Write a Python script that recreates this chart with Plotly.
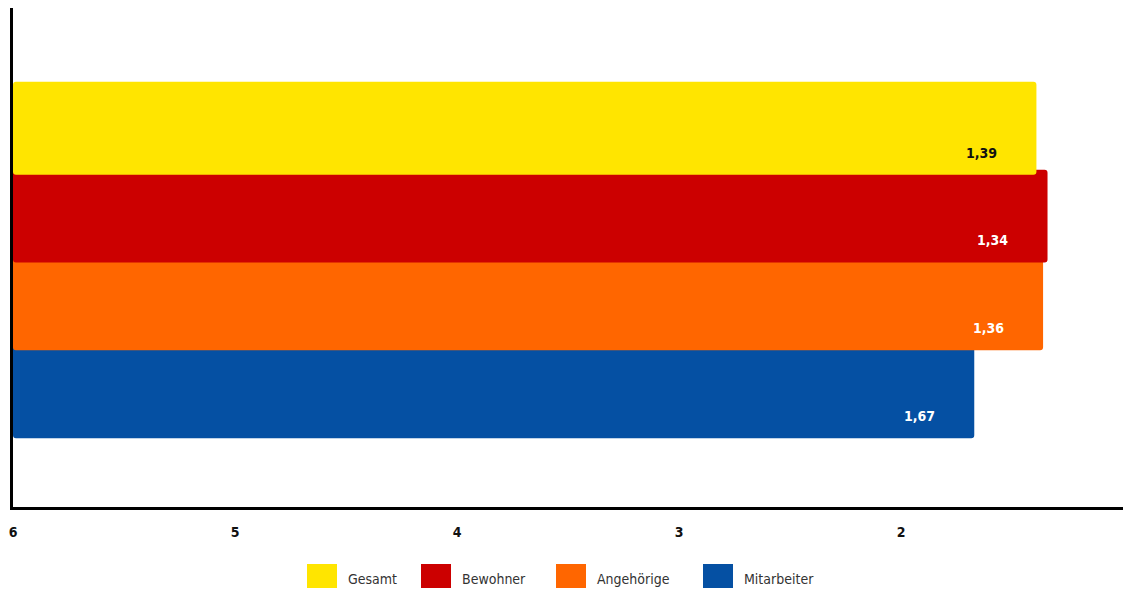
import plotly.graph_objects as go

# Mittelwerte (Schulnoten-Skala, 6 = schlecht, 1 = sehr gut)
series = ["Gesamt", "Bewohner", "Angehörige", "Mitarbeiter"]
values = [1.39, 1.34, 1.36, 1.67]
labels = ["1,39", "1,34", "1,36", "1,67"]
colors = ["#FFE500", "#CC0000", "#FF6600", "#0550A3"]
label_colors = ["#111111", "#FFFFFF", "#FFFFFF", "#FFFFFF"]
tick_vals = [6, 5, 4, 3, 2, 1]
tick_text = ["6", "5", "4", "3", "2", "1"]

SCALE_START = 6
FONT = "Liberation Sans Narrow, DejaVu Sans Condensed, Open Sans, sans-serif"

# vertical layout of the (slightly overlapping) bars
bar_width = 0.186
bar_step = 0.176
first_offset = 0.166

fig = go.Figure()
# earlier series sit on top of later ones, so add them in reverse order
for i in reversed(range(len(series))):
    name, v, col = series[i], values[i], colors[i]
    off = first_offset - i * bar_step
    fig.add_trace(go.Bar(
        name=name,
        orientation="h",
        y=[0],
        x=[v - SCALE_START],
        base=[SCALE_START],
        width=[bar_width],
        offset=[off],
        marker=dict(color=col, line=dict(width=0)),
        showlegend=False,
        hoverinfo="skip",
    ))
    fig.add_annotation(
        x=v, y=off, xref="x", yref="y",
        text=f"<b>{labels[i]}</b>", showarrow=False,
        xanchor="center", yanchor="middle",
        xshift=-55, yshift=22,
        font=dict(family=FONT, size=14, color=label_colors[i]),
    )

# legend drawn below the axis: swatch + label per series
L, R, TOP, BOT = 13, 1123, 8, 507
pw, ph = R - L, BOT - TOP
sw_left = [307, 421, 556, 703]
sw_w, sw_h, sw_top = 30, 24, 564


def px(xp):
    return (xp - L) / pw


def py(yp):
    return (BOT - yp) / ph


for name, col, xl in zip(series, colors, sw_left):
    fig.add_shape(
        type="rect", xref="paper", yref="paper",
        x0=px(xl), x1=px(xl + sw_w), y0=py(sw_top + sw_h), y1=py(sw_top),
        fillcolor=col, line=dict(width=0), layer="above",
    )
    fig.add_annotation(
        x=px(xl + sw_w + 9), y=py(sw_top + sw_h / 2 + 3), xref="paper", yref="paper",
        text=name, showarrow=False, xanchor="left", yanchor="middle",
        font=dict(family=FONT, size=14, color="#333333"),
    )

fig.update_layout(
    width=1123, height=592,
    margin=dict(l=L, r=1123 - R, t=TOP, b=592 - BOT),
    barmode="overlay",
    barcornerradius=3,
    plot_bgcolor="white", paper_bgcolor="white",
    showlegend=False,
    xaxis=dict(
        range=[6, 1], tickvals=tick_vals, ticktext=tick_text,
        showgrid=False, zeroline=False,
        showline=True, linecolor="#000000", linewidth=3,
        ticks="", ticklabelstandoff=10,
        tickfont=dict(family=FONT, size=14, color="#111111", weight="bold"),
    ),
    yaxis=dict(
        range=[-0.5, 0.5], showgrid=False, zeroline=False,
        showline=True, linecolor="#000000", linewidth=3,
        showticklabels=False, ticks="",
    ),
)

fig.write_html("out.html")
